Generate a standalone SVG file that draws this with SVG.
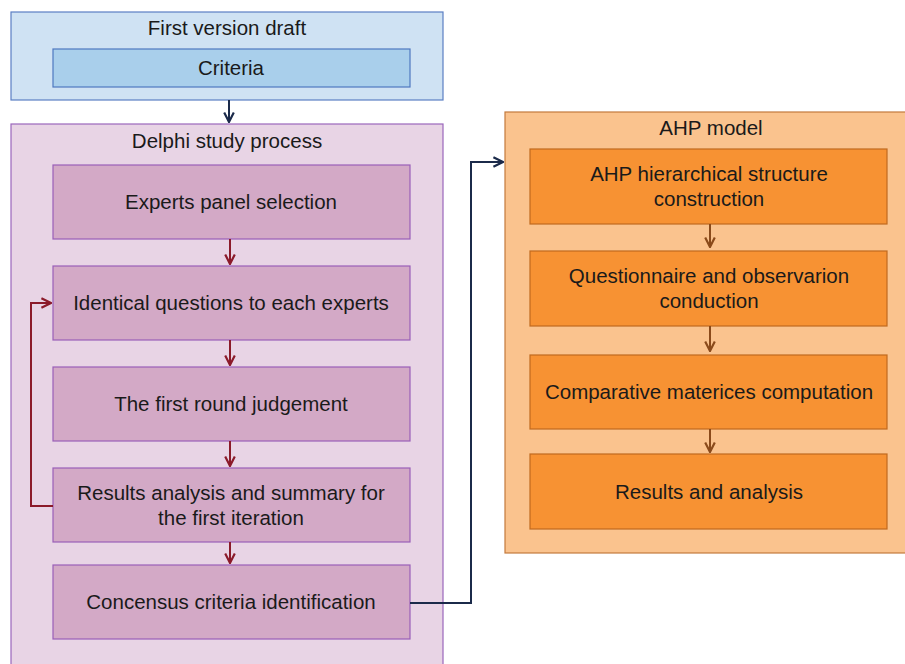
<svg xmlns="http://www.w3.org/2000/svg" width="905" height="664" viewBox="0 0 905 664">
  <style>
    text { font-family: "Liberation Sans", Arial, sans-serif; font-size: 20.5px; fill: #1a1a1a; text-anchor: middle; }
    .blue-outer { fill: #cfe2f3; stroke: #5b7fc4; stroke-width: 1.2; }
    .blue-inner { fill: #a9cfeb; stroke: #4f78c0; stroke-width: 1.2; }
    .pink-outer { fill: #e8d4e5; stroke: #9a67bb; stroke-width: 1.2; }
    .pink-inner { fill: #d3a9c6; stroke: #9a5fb8; stroke-width: 1.2; }
    .orange-outer { fill: #fac38e; stroke: #c47a3c; stroke-width: 1.2; }
    .orange-inner { fill: #f79233; stroke: #c06a1e; stroke-width: 1.2; }
    .navy { fill: none; stroke: #1b2a4a; stroke-width: 2; }
    .red { fill: none; stroke: #8b1a2a; stroke-width: 2; }
    .brown { fill: none; stroke: #8a4a1a; stroke-width: 2; }
  </style>
  <defs>
    <marker id="arrNavy" viewBox="0 0 10 10" refX="9" refY="5" markerWidth="12" markerHeight="12" orient="auto" markerUnits="userSpaceOnUse">
      <path d="M1,1 L9,5 L1,9" fill="none" stroke="#1b2a4a" stroke-width="1.8"/>
    </marker>
    <marker id="arrRed" viewBox="0 0 10 10" refX="9" refY="5" markerWidth="12" markerHeight="12" orient="auto" markerUnits="userSpaceOnUse">
      <path d="M1,1 L9,5 L1,9" fill="none" stroke="#8b1a2a" stroke-width="1.8"/>
    </marker>
    <marker id="arrBrown" viewBox="0 0 10 10" refX="9" refY="5" markerWidth="12" markerHeight="12" orient="auto" markerUnits="userSpaceOnUse">
      <path d="M1,1 L9,5 L1,9" fill="none" stroke="#8a4a1a" stroke-width="1.8"/>
    </marker>
  </defs>

  <!-- First version draft -->
  <g id="draft">
    <rect class="blue-outer" x="11" y="12" width="432" height="88"/>
    <text x="227" y="35">First version draft</text>
  </g>
  <g id="criteria">
    <rect class="blue-inner" x="53" y="49" width="357" height="38"/>
    <text x="231" y="75">Criteria</text>
  </g>

  <!-- Delphi study process -->
  <g id="delphi">
    <rect class="pink-outer" x="11" y="124" width="432" height="545"/>
    <text x="227" y="148">Delphi study process</text>
  </g>
  <g id="experts-panel">
    <rect class="pink-inner" x="53" y="165" width="357" height="74"/>
    <text x="231" y="209">Experts panel selection</text>
  </g>
  <g id="identical-questions">
    <rect class="pink-inner" x="53" y="266" width="357" height="74"/>
    <text x="231" y="310">Identical questions to each experts</text>
  </g>
  <g id="first-round">
    <rect class="pink-inner" x="53" y="367" width="357" height="74"/>
    <text x="231" y="411">The first round judgement</text>
  </g>
  <g id="results-summary">
    <rect class="pink-inner" x="53" y="468" width="357" height="74"/>
    <text x="231" y="500">Results analysis and summary for</text>
    <text x="231" y="525">the first iteration</text>
  </g>
  <g id="consensus">
    <rect class="pink-inner" x="53" y="565" width="357" height="74"/>
    <text x="231" y="609">Concensus criteria identification</text>
  </g>

  <!-- AHP model -->
  <g id="ahp">
    <rect class="orange-outer" x="505" y="112" width="405" height="441"/>
    <text x="711" y="135">AHP model</text>
  </g>
  <g id="ahp-structure">
    <rect class="orange-inner" x="530" y="149" width="357" height="75"/>
    <text x="709" y="181">AHP hierarchical structure</text>
    <text x="709" y="206">construction</text>
  </g>
  <g id="questionnaire">
    <rect class="orange-inner" x="530" y="251" width="357" height="75"/>
    <text x="709" y="283">Questionnaire and observarion</text>
    <text x="709" y="308">conduction</text>
  </g>
  <g id="comparative">
    <rect class="orange-inner" x="530" y="355" width="357" height="74"/>
    <text x="709" y="399">Comparative materices computation</text>
  </g>
  <g id="ahp-results">
    <rect class="orange-inner" x="530" y="454" width="357" height="75"/>
    <text x="709" y="499">Results and analysis</text>
  </g>

  <!-- Connectors -->
  <g id="connectors">
    <path class="navy" d="M229,100 V122" marker-end="url(#arrNavy)"/>
    <path class="red" d="M230,239 V264" marker-end="url(#arrRed)"/>
    <path class="red" d="M230,340 V365" marker-end="url(#arrRed)"/>
    <path class="red" d="M230,441 V466" marker-end="url(#arrRed)"/>
    <path class="red" d="M230,542 V563" marker-end="url(#arrRed)"/>
    <path class="red" d="M53,506 H31 V303 H51" marker-end="url(#arrRed)"/>
    <path class="navy" d="M410,603 H471 V162 H503" marker-end="url(#arrNavy)"/>
    <path class="brown" d="M710,224 V247" marker-end="url(#arrBrown)"/>
    <path class="brown" d="M710,326 V351" marker-end="url(#arrBrown)"/>
    <path class="brown" d="M710,429 V452" marker-end="url(#arrBrown)"/>
  </g>
</svg>
